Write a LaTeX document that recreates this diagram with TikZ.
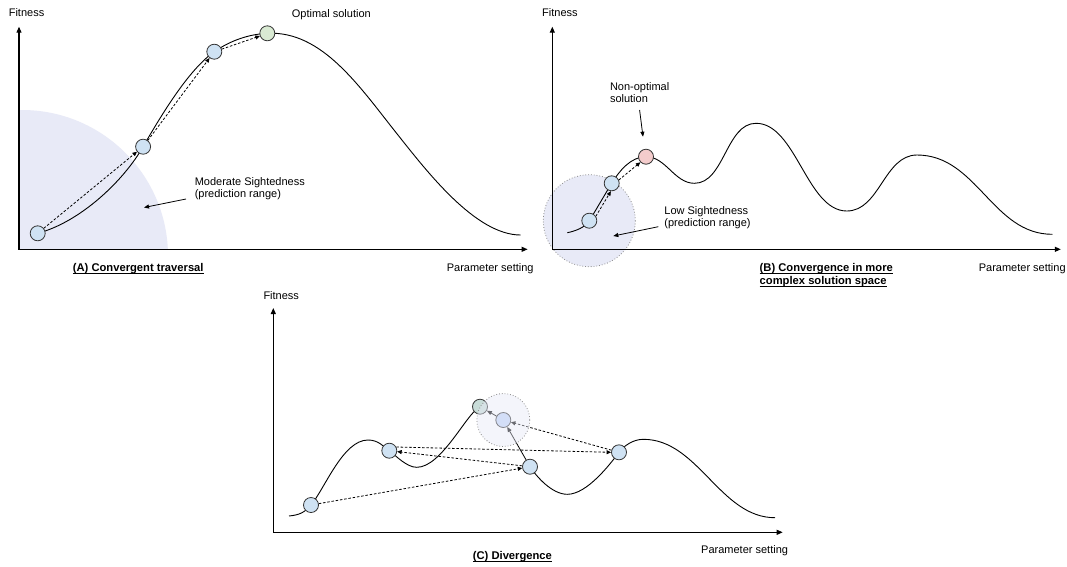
\documentclass[tikz,border=0pt]{standalone}
\usepackage{fontspec}
\setmainfont{Liberation Sans}
\usetikzlibrary{arrows.meta}

\definecolor{spotblue}{RGB}{207,226,243}
\definecolor{spotgreen}{RGB}{217,234,211}
\definecolor{spotred}{RGB}{244,204,204}
\definecolor{spotteal}{RGB}{200,220,216}
\definecolor{spotcorn}{RGB}{195,213,247}
\definecolor{haze}{RGB}{232,234,247}

% bold caption with a flat underline just under the baseline
\newcommand\captul[1]{\leavevmode\setbox0\hbox{#1}\rlap{\rule[-2.4pt]{\wd0}{0.8pt}}\box0}

\tikzset{
  spot/.style={circle, draw=black!80, line width=0.8pt, minimum size=15pt, inner sep=0pt, fill=spotblue},
  landscape/.style={line width=0.9pt, black},
  axes/.style={line width=1.1pt, {Triangle[length=6pt,width=5pt]}-{Triangle[length=6pt,width=5pt]}},
  hop/.style={line width=0.8pt, dash pattern=on 2.5pt off 1.8pt, -{Triangle[length=4.5pt,width=4pt]}},
  pointer/.style={line width=0.8pt, -{Triangle[length=5pt,width=4pt]}},
  lbl/.style={font=\fontsize{11pt}{12.5pt}\selectfont, inner sep=0pt, align=left, anchor=west},
  captxt/.style={lbl, font=\fontsize{11.2pt}{13.4pt}\selectfont\bfseries},
  sightzone/.style={fill=haze, draw=black!45, dotted, line width=0.8pt}
}

\begin{document}
\begin{tikzpicture}[x=1pt, y=-1pt]
\fill[white] (0,0) rectangle (1067,566);
\useasboundingbox (0,0) rectangle (1067,566);

% ---------------- (A) convergent traversal ----------------
\coordinate (Ay) at (19,26.7);
\coordinate (Ao) at (19,249.3);
\coordinate (Ax) at (527.6,249.3);
\coordinate (pA1) at (37.7,233.3);
\coordinate (pA2) at (143.1,146.7);
\coordinate (pA3) at (214.3,51.7);
\coordinate (pAg) at (267.3,33.3);

\begin{scope}
  \clip (19,0) rectangle (540,249.3);
  \fill[haze] (22,256) circle[radius=146];
\end{scope}
\draw[axes] (Ay) -- (Ao) -- (Ax);

\draw[landscape] (pA1) .. controls (80,222) and (123.1,181.5) .. (pA2)
  .. controls (163.1,111.9) and (189.7,68.8) .. (pA3)
  .. controls (230.7,40.3) and (249.3,34.2) .. (pAg)
  .. controls (322,30.5) and (359.4,86.5) .. (396.6,133.3)
  .. controls (427.6,172.3) and (475.7,235) .. (520.7,235);

\node[spot] (a1) at (pA1) {};
\node[spot] (a2) at (pA2) {};
\node[spot] (a3) at (pA3) {};
\node[spot, fill=spotgreen] (ag) at (pAg) {};
\draw[hop] (a1) -- (a2);
\draw[hop] (a2) -- (a3);
\draw[hop] (a3) -- (ag.200);

\coordinate (mA0) at (186,199);
\coordinate (mA1) at (144,207.5);
\draw[pointer] (mA0) -- (mA1);

\node[lbl] (fitA) at (8.6,12.3) {Fitness};
\node[lbl] (optA) at (291.7,15) {Optimal solution};
\node[lbl] (sightA) at (194.6,188.8) {Moderate Sightedness\\(prediction range)};
\node[captxt] (capA) at (72.7,268.3) {\captul{(A) Convergent traversal}};
\node[lbl] (parA) at (446.6,268.3) {Parameter setting};

% ---------------- (B) more complex solution space ----------------
\coordinate (By) at (552.3,26.7);
\coordinate (Bo) at (552.3,249.3);
\coordinate (Bx) at (1060.8,249.3);
\coordinate (pB1) at (589.3,220.7);
\coordinate (pB2) at (611.7,183.3);
\coordinate (pBr) at (646,156.7);

\draw[sightzone] (pB1) circle[radius=46];
\draw[axes] (By) -- (Bo) -- (Bx);

\draw[landscape] (567.3,232.7) .. controls (575.3,231.1) and (585.1,227.5) .. (pB1)
  .. controls (596.1,209.7) and (604.9,194.4) .. (pB2)
  .. controls (619.5,170.5) and (631,156.7) .. (pBr)
  .. controls (666,156.7) and (674.4,183.3) .. (694.4,183.3)
  .. controls (724.4,183.3) and (726,123.3) .. (756,123.3)
  .. controls (796,123.3) and (806.8,211) .. (846.8,211)
  .. controls (879.8,211) and (884,155) .. (917,155)
  .. controls (977,155) and (992.3,234.3) .. (1052.3,234.3);

\node[spot] (b1) at (pB1) {};
\node[spot] (b2) at (pB2) {};
\node[spot, fill=spotred] (br) at (pBr) {};
\draw[hop] (b1.34) -- (b2.264);
\draw[hop] (b2.25) -- (br.225);

\coordinate (mB0) at (639.6,110);
\coordinate (mB1) at (643,136.7);
\draw[pointer] (mB0) -- (mB1);
\coordinate (mB2) at (658.3,226.7);
\coordinate (mB3) at (613.3,236);
\draw[pointer] (mB2) -- (mB3);

\node[lbl] (fitB) at (542,12.3) {Fitness};
\node[lbl] (nonB) at (609.8,92.8) {Non-optimal\\solution};
\node[lbl] (lowB) at (664.2,217.7) {Low Sightedness\\(prediction range)};
\node[captxt] (capB) at (759.5,275) {\captul{(B) Convergence in more}\\\captul{complex solution space}};
\node[lbl] (parB) at (978.6,268.3) {Parameter setting};

% ---------------- (C) divergence ----------------
\coordinate (Cy) at (273.3,308);
\coordinate (Co) at (273.3,532.3);
\coordinate (Cx) at (782.7,532.3);
\coordinate (pC1) at (311,505);
\coordinate (pC2) at (389.3,450.7);
\coordinate (pCg) at (480,406.7);
\coordinate (pCm) at (503.3,420);
\coordinate (pC3) at (530,466.7);
\coordinate (pC4) at (619,452.3);

\draw[axes] (Cy) -- (Co) -- (Cx);

\draw[landscape] (289,516) .. controls (299,515) and (304.6,512.7) .. (pC1)
  .. controls (325.1,488.1) and (343,440) .. (368,440)
  .. controls (378,440) and (382.9,445.9) .. (pC2)
  .. controls (395.7,455.5) and (406.7,467.3) .. (416.7,467.3)
  .. controls (441.7,467.3) and (466.5,413.2) .. (pCg);
\draw[landscape] (pC3) .. controls (536.6,476.7) and (552,494.3) .. (567.3,494.3)
  .. controls (587,494.3) and (610,464.3) .. (pC4)
  .. controls (623.8,445.9) and (633,439.3) .. (643.3,439.3)
  .. controls (698.3,439.3) and (720,517.7) .. (775,517.7);

\node[spot] (c1) at (pC1) {};
\node[spot] (c2) at (pC2) {};
\node[spot, fill=spotteal] (cg) at (pCg) {};
\node[spot, fill=spotcorn] (cm) at (pCm) {};
\node[spot] (c3) at (pC3) {};
\node[spot] (c4) at (pC4) {};

\draw[pointer] (c3) -- (cm);
\draw[pointer] (cm) -- (cg);
\draw[hop] (c1) -- (c3);
\draw[hop] (c3) -- (c2);
\draw[hop] (c2.28) -- (c4.180);
\draw[hop] (c4) -- (cm);

\draw[sightzone, fill opacity=0.45] (pCm) circle[radius=26.5];

\node[lbl] (fitC) at (263.3,296) {Fitness};
\node[captxt] (capC) at (472.7,557) {\captul{(C) Divergence}};
\node[lbl] (parC) at (701,550.7) {Parameter setting};
\end{tikzpicture}
\end{document}
